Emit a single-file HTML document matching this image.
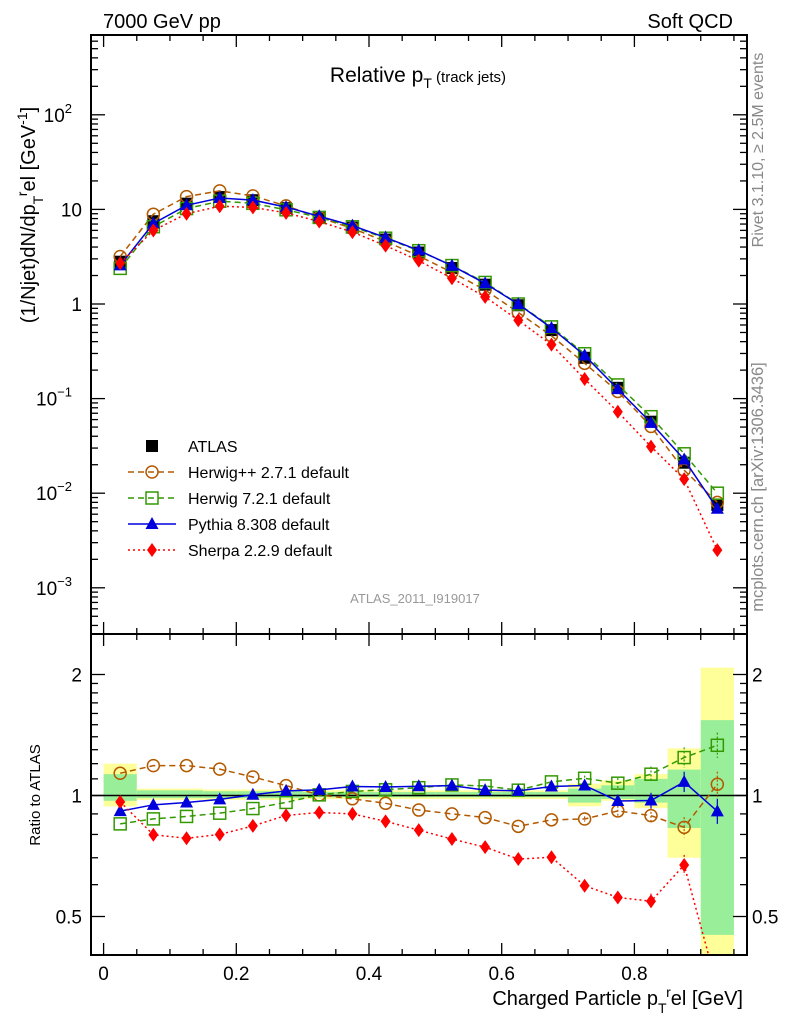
<!DOCTYPE html>
<html><head><meta charset="utf-8"><style>
body{margin:0;background:#fff;}
svg{display:block;font-family:"Liberation Sans",sans-serif;}
</style></head><body>
<svg id="c" width="786" height="1024" viewBox="0 0 786 1024" xmlns="http://www.w3.org/2000/svg">
<text x="103" y="28" font-size="20">7000 GeV pp</text>
<text x="733" y="28" font-size="20" text-anchor="end">Soft QCD</text>
<text x="418" y="82" font-size="21" text-anchor="middle">Relative p<tspan font-size="14" dy="6">T</tspan><tspan font-size="15" dy="-6"> (track jets)</tspan></text>
<text x="415" y="603" font-size="13" fill="#999" text-anchor="middle">ATLAS_2011_I919017</text>
<text transform="translate(763,150) rotate(-90)" font-size="16" fill="#888" text-anchor="middle">Rivet 3.1.10, ≥ 2.5M events</text>
<text transform="translate(763,487) rotate(-90)" font-size="16.5" fill="#888" text-anchor="middle">mcplots.cern.ch [arXiv:1306.3436]</text>
<text transform="translate(35,215) rotate(-90)" font-size="20" text-anchor="middle">(1/Njet)dN/dp<tspan font-size="14" dy="8">T</tspan><tspan font-size="14" dy="-16">r</tspan><tspan dy="8">el [GeV</tspan><tspan font-size="14" dy="-8">-1</tspan><tspan dy="8">]</tspan></text>
<text transform="translate(40,795) rotate(-90)" font-size="15" text-anchor="middle">Ratio to ATLAS</text>
<text x="743" y="1005" font-size="20" text-anchor="end">Charged Particle p<tspan font-size="14" dy="8">T</tspan><tspan font-size="14" dy="-16">r</tspan><tspan dy="8">el [GeV]</tspan></text>
<g id="g"></g>
</svg>
<script>
const bins=[0.025,0.075,0.125,0.175,0.225,0.275,0.325,0.375,0.425,0.475,0.525,0.575,0.625,0.675,0.725,0.775,0.825,0.875,0.925];
const atlas=[2.8,7.5,11.5,13.5,12.5,10.3,8.2,6.4,4.8,3.5,2.4,1.6,0.97,0.53,0.27,0.13,0.057,0.021,0.0075];
const herwigpp=[3.18,8.9,13.65,15.7,13.9,10.9,8.23,6.28,4.59,3.22,2.16,1.41,0.813,0.461,0.236,0.119,0.0508,0.0175,0.0080];
const herwig7=[2.38,6.56,10.2,12.2,11.6,9.9,8.23,6.55,4.96,3.66,2.55,1.69,1.00,0.573,0.298,0.1395,0.0644,0.0261,0.0100];
const pythia=[2.56,7.11,11.05,13.2,12.55,10.58,8.47,6.74,5.04,3.69,2.54,1.65,0.996,0.558,0.286,0.126,0.0554,0.0227,0.00685];
const sherpa=[2.70,5.99,9.0,10.8,10.5,9.19,7.44,5.76,4.14,2.87,1.87,1.19,0.674,0.372,0.161,0.0725,0.0311,0.0141,0.0025];
const bandTotLo=[0.94,0.975,0.975,0.975,0.975,0.975,0.98,0.98,0.98,0.98,0.98,0.98,0.98,0.98,0.94,0.97,0.93,0.70,0.35];
const bandTotHi=[1.20,1.04,1.04,1.035,1.035,1.035,1.03,1.03,1.03,1.03,1.03,1.03,1.03,1.03,1.07,1.09,1.13,1.31,2.08];
const bandStatLo=[0.97,0.985,0.985,0.985,0.985,0.985,0.99,0.99,0.99,0.99,0.99,0.99,0.99,0.99,0.96,0.98,0.96,0.83,0.45];
const bandStatHi=[1.13,1.03,1.03,1.025,1.025,1.025,1.02,1.02,1.02,1.02,1.02,1.02,1.02,1.02,1.04,1.06,1.10,1.16,1.54];
const xTicks=[0,0.2,0.4,0.6,0.8];
const ratioTicks=[0.5,1,2];
const NS="http://www.w3.org/2000/svg";
const g=document.getElementById('g');
const L=91,R=747,T=35,M=634,B=955;
const X=v=>103.6+v*663.5;
const Y=v=>304-94.6*Math.log10(v);
const RY=v=>795.5-121*Math.log2(v);
function el(t,a,p){const e=document.createElementNS(NS,t);for(const k in a)e.setAttribute(k,a[k]);(p||g).appendChild(e);return e;}
const bg=el('g',{'clip-path':'url(#rc)'});
const cp=el('clipPath',{id:'rc'});el('rect',{x:L,y:M,width:R-L,height:B-M},cp);
bins.forEach((b,i)=>{
 const r1=el('rect',{x:X(b-0.025),y:RY(bandTotHi[i]),width:X(0.05)-X(0),height:RY(bandTotLo[i])-RY(bandTotHi[i]),fill:'#ffff99'},bg);
 
 
 const r2=el('rect',{x:X(b-0.025),y:RY(bandStatHi[i]),width:X(0.05)-X(0),height:RY(bandStatLo[i])-RY(bandStatHi[i]),fill:'#99ee99'},bg);
 
 
});
el('line',{x1:L,x2:R,y1:RY(1),y2:RY(1),stroke:'#000','stroke-width':1.5});
el('rect',{x:L,y:T,width:R-L,height:M-T,fill:'none',stroke:'#000','stroke-width':2});
el('rect',{x:L,y:M,width:R-L,height:B-M,fill:'none',stroke:'#000','stroke-width':2});
for(let k=0;k<=19;k++){const v=k*0.05;const x=X(v);if(x>R)break;const maj=k%4==0;const l=maj?12:6;
 [[T,1],[M,-1],[M,1],[B,-1]].forEach(([y,d])=>el('line',{x1:x,x2:x,y1:y,y2:y+d*l,stroke:'#000','stroke-width':1.3}));}
xTicks.forEach(v=>{const t=el('text',{x:X(v),y:980,'font-size':19,'text-anchor':'middle'});t.textContent=v==0?'0':v.toFixed(1);
 });
for(let e=-4;e<=3;e++){for(let m=1;m<10;m++){const v=m*Math.pow(10,e);const y=Y(v);if(y<T||y>M)continue;const l=m==1?14:7;
 el('line',{x1:L,x2:L+l,y1:y,y2:y,stroke:'#000','stroke-width':1.3});el('line',{x1:R,x2:R-l,y1:y,y2:y,stroke:'#000','stroke-width':1.3});}}
const ylab=[[2,'10','2'],[1,'10',''],[0,'1',''],[-1,'10','−1'],[-2,'10','−2'],[-3,'10','−3']];
ylab.forEach(([e,b,s])=>{const t=el('text',{x:s?72:82,y:Y(Math.pow(10,e))+7,'font-size':19,'text-anchor':'end'});t.textContent=b;
 if(s){const sp=el('tspan',{'font-size':13,dy:-9},t);sp.textContent=s;}
 });
for(let v=0.4;v<=2.5;v+=(v<1?0.1:v<2?0.1:0.5)){const y=RY(v);if(y<M||y>B)continue;const maj=ratioTicks.some(t=>Math.abs(t-v)<1e-6);const l=maj?14:7;
 el('line',{x1:L,x2:L+l,y1:y,y2:y,stroke:'#000','stroke-width':1.3});el('line',{x1:R,x2:R-l,y1:y,y2:y,stroke:'#000','stroke-width':1.3});}
ratioTicks.forEach(v=>{[[82,'end'],[752,'start']].forEach(([x,a])=>{const t=el('text',{x:x,y:RY(v)+7,'font-size':19,'text-anchor':a});t.textContent=String(v);
 });});
function marker(kind,x,y,c,p){
 if(kind=='sq')return el('rect',{x:x-6,y:y-6,width:12,height:12,fill:'#000'},p);
 if(kind=='circ')return el('circle',{cx:x,cy:y,r:6,fill:'none',stroke:c,'stroke-width':1.5},p);
 if(kind=='osq')return el('rect',{x:x-6,y:y-6,width:12,height:12,fill:'none',stroke:c,'stroke-width':1.5},p);
 if(kind=='tri')return el('polygon',{points:`${x},${y-7} ${x-6.5},${y+5} ${x+6.5},${y+5}`,fill:c},p);
 if(kind=='dia')return el('polygon',{points:`${x},${y-7} ${x-5},${y} ${x},${y+7} ${x+5},${y}`,fill:c},p);
}
const series=[
 {name:'herwigpp',vals:herwigpp,c:'#b35900',dash:'6,4',m:'circ',w:1.5},
 {name:'herwig7',vals:herwig7,c:'#339900',dash:'6,4',m:'osq',w:1.5},
 {name:'pythia',vals:pythia,c:'#0000dd',dash:'',m:'tri',w:1.5},
 {name:'sherpa',vals:sherpa,c:'#ff0000',dash:'2,3',m:'dia',w:1.5}];
const mainClip=el('clipPath',{id:'mc'});el('rect',{x:L,y:T,width:R-L,height:M-T},mainClip);
const ratioG=el('g',{'clip-path':'url(#rc)'});
const mainG=el('g',{'clip-path':'url(#mc)'});
bins.forEach((b,i)=>{const m=marker('sq',X(b),Y(atlas[i]),'#000',mainG);
 });
series.forEach(s=>{
 const pts=bins.map((b,i)=>`${X(b)},${Y(s.vals[i])}`).join(' ');
 const pl=el('polyline',{points:pts,fill:'none',stroke:s.c,'stroke-width':s.w,'stroke-dasharray':s.dash},mainG);
 
 const rp=bins.map((b,i)=>`${X(b)},${RY(s.vals[i]/atlas[i])}`).join(' ');
 const rl=el('polyline',{points:rp,fill:'none',stroke:s.c,'stroke-width':s.w,'stroke-dasharray':s.dash},ratioG);
 
 bins.forEach((b,i)=>{
  const m1=marker(s.m,X(b),Y(s.vals[i]),s.c,mainG);
  
  const r=s.vals[i]/atlas[i];
  if(i>=14){const e=0.015*(i-13);el('line',{x1:X(b),x2:X(b),y1:RY(r*(1+e)),y2:RY(r/(1+e)),stroke:s.c,'stroke-width':1.2,'stroke-dasharray':s.dash?'2,2':''},ratioG);}
  const m2=marker(s.m,X(b),RY(r),s.c,ratioG);
  
 });
});
const lg=el('g',{});


const lab=['ATLAS','Herwig++ 2.7.1 default','Herwig 7.2.1 default','Pythia 8.308 default','Sherpa 2.2.9 default'];
lab.forEach((t,i)=>{const y=446+i*26;
 if(i==0)marker('sq',152,y,'#000',lg);
 else{const s=series[i-1];el('line',{x1:128,x2:176,y1:y,y2:y,stroke:s.c,'stroke-width':1.5,'stroke-dasharray':s.dash},lg);marker(s.m,152,y,s.c,lg);}
 const tx=el('text',{x:188,y:y+6,'font-size':16},lg);tx.textContent=t;
 });
</script>
</body></html>
